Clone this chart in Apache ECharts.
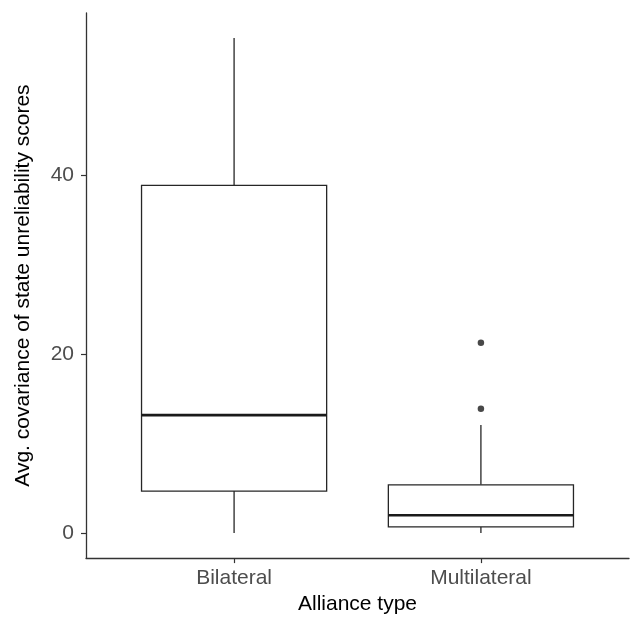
<!DOCTYPE html>
<html>
<head>
<meta charset="utf-8">
<script src="https://cdn.jsdelivr.net/npm/echarts@6/dist/echarts.min.js"></script>
<style>
  html, body { margin: 0; padding: 0; background: #fff; }
  #main { width: 631px; height: 620px; }
</style>
</head>
<body>
<div id="main"></div>
<script>
// 类别与箱线数据 (min, Q1, median, Q3, max)
const categories = ['Bilateral', 'Multilateral'];
const boxBilateral = [0, 4.7, 13.2, 38.9, 55.4];
const boxMultilateral = [0, 0.7, 2.0, 5.4, 12.1];
const outliersMultilateral = [13.9, 21.3];
const yTicks = [0, 20, 40];

const boxes = [boxBilateral, boxMultilateral];

const myChart = echarts.init(document.getElementById('main'));

// 每个箱子: [x位置, min, q1, median, q3, max]
const boxSeriesData = boxes.map((b, i) => [i + 1].concat(b));
const outlierData = outliersMultilateral.map(v => [2, v]);

const lineColor = '#262626';

const option = {
    animation: false,
    grid: {
        left: 86,
        right: 2,
        top: 13,
        bottom: 58
    },
    xAxis: {
        type: 'value',
        min: 0.4,
        max: 2.6,
        name: 'Alliance type',
        nameLocation: 'middle',
        nameGap: 26,
        nameTextStyle: {
            color: '#000',
            fontSize: 21,
            fontFamily: 'Liberation Sans'
        },
        axisLine: { show: true, onZero: false, lineStyle: { color: '#333', width: 1.3 } },
        axisTick: {
            show: true,
            length: 5,
            customValues: [1, 2],
            lineStyle: { color: '#333', width: 1.2 }
        },
        axisLabel: {
            customValues: [1, 2],
            margin: 10,
            color: '#4d4d4d',
            fontSize: 21,
            fontFamily: 'Liberation Sans',
            formatter: v => categories[Math.round(v) - 1] || ''
        },
        splitLine: { show: false }
    },
    yAxis: {
        type: 'value',
        min: -2.8,
        max: 58.2,
        name: 'Avg. covariance of state unreliability scores',
        nameLocation: 'middle',
        nameGap: 52,
        nameTextStyle: {
            color: '#000',
            fontSize: 21,
            fontFamily: 'Liberation Sans'
        },
        axisLine: { show: true, onZero: false, lineStyle: { color: '#333', width: 1.3 } },
        axisTick: {
            show: true,
            length: 5,
            customValues: yTicks,
            lineStyle: { color: '#333', width: 1.2 }
        },
        axisLabel: {
            customValues: yTicks,
            margin: 12,
            color: '#4d4d4d',
            fontSize: 21,
            fontFamily: 'Liberation Sans'
        },
        splitLine: { show: false }
    },
    series: [
        {
            name: 'box',
            type: 'custom',
            data: boxSeriesData,
            renderItem: function (params, api) {
                const x = api.value(0);
                const half = api.size([0.375, 0])[0];
                const pMin = api.coord([x, api.value(1)]);
                const pQ1 = api.coord([x, api.value(2)]);
                const pMed = api.coord([x, api.value(3)]);
                const pQ3 = api.coord([x, api.value(4)]);
                const pMax = api.coord([x, api.value(5)]);
                const thin = { stroke: lineColor, lineWidth: 1.3, fill: null };
                return {
                    type: 'group',
                    children: [
                        // 下须
                        { type: 'line', shape: { x1: pMin[0], y1: pMin[1], x2: pQ1[0], y2: pQ1[1] }, style: thin },
                        // 上须
                        { type: 'line', shape: { x1: pQ3[0], y1: pQ3[1], x2: pMax[0], y2: pMax[1] }, style: thin },
                        // 箱体
                        {
                            type: 'rect',
                            shape: { x: pQ3[0] - half, y: pQ3[1], width: half * 2, height: pQ1[1] - pQ3[1] },
                            style: { stroke: lineColor, lineWidth: 1.3, fill: '#fff' }
                        },
                        // 中位线
                        {
                            type: 'line',
                            shape: { x1: pMed[0] - half, y1: pMed[1], x2: pMed[0] + half, y2: pMed[1] },
                            style: { stroke: '#1a1a1a', lineWidth: 2.6 }
                        }
                    ]
                };
            }
        },
        {
            name: 'outliers',
            type: 'scatter',
            data: outlierData,
            symbolSize: 6.5,
            itemStyle: { color: '#1a1a1a' }
        }
    ]
};

myChart.setOption(option);
</script>
</body>
</html>
